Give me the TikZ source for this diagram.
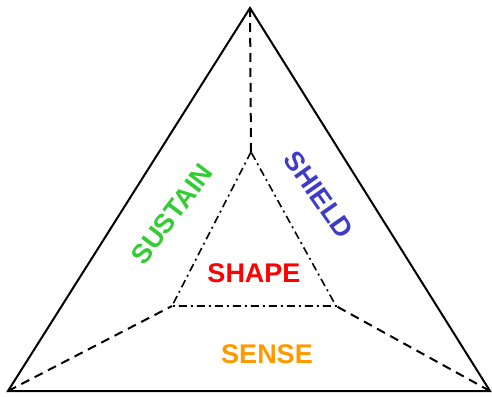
\documentclass[tikz,border=0pt]{standalone}
\usepackage{fontspec}
\setmainfont{Liberation Sans}
\begin{document}
\begin{tikzpicture}[x=1pt,y=-1pt,
  outer/.style={line width=2pt},
  conn/.style={line width=2pt,dash pattern=on 9pt off 6pt},
  inner/.style={line width=1.6pt,dash pattern=on 8pt off 4pt on 2pt off 4pt},
  lbl/.style={font=\fontsize{27}{30}\selectfont\bfseries,inner sep=0pt}]
\useasboundingbox (0,0) rectangle (492,396);
\definecolor{cgreen}{RGB}{50,205,50}
\definecolor{cblue}{RGB}{60,60,200}
\definecolor{cred}{RGB}{255,0,0}
\definecolor{corange}{RGB}{255,153,0}
\coordinate (A) at (250,8);
\coordinate (B) at (8,391);
\coordinate (C) at (490,391);
\coordinate (a) at (251,152);
\coordinate (b) at (172,306);
\coordinate (c) at (336,306);
\draw[outer,line join=miter] (A) -- (B) -- (C) -- cycle;
\draw[inner] (a) -- (b) -- (c) -- cycle;
\draw[conn] (A) -- (a);
\draw[conn] (B) -- (b);
\draw[conn] (C) -- (c);
\node[lbl,text=cgreen,rotate=53] (sustain) at (172,214) {SUSTAIN};
\node[lbl,text=cblue,rotate=-55] (shield) at (319,195) {SHIELD};
\node[lbl,text=cred] (shape) at (254,273) {SHAPE};
\node[lbl,text=corange] (sense) at (267,354) {SENSE};
\end{tikzpicture}
\end{document}
